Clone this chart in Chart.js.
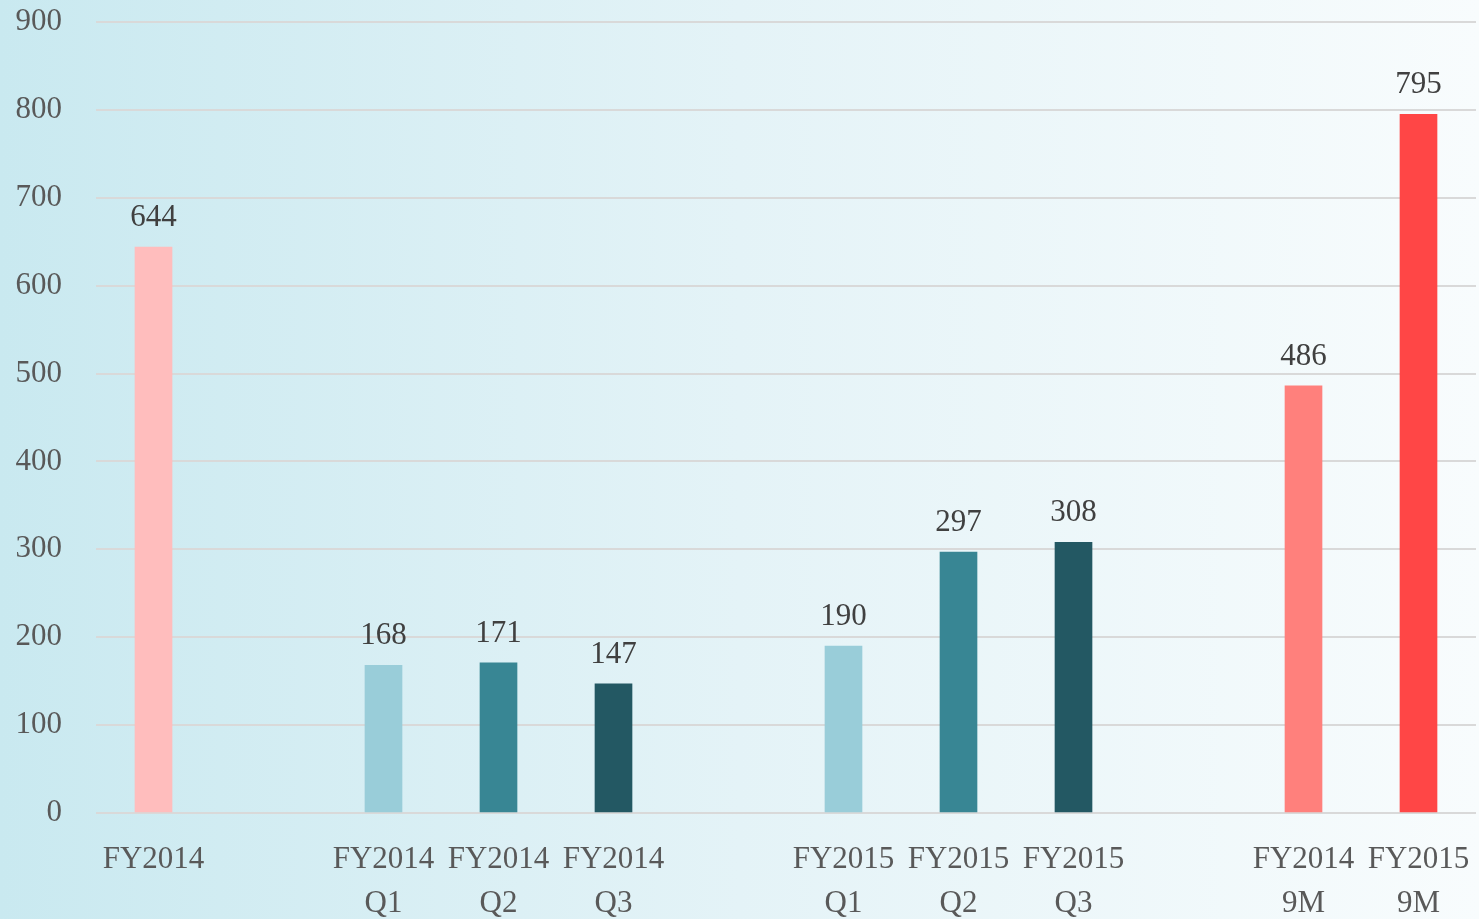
<!DOCTYPE html>
<html>
<head>
<meta charset="utf-8">
<script src="https://cdn.jsdelivr.net/npm/chart.js@4/dist/chart.umd.min.js"></script>
<style>
  html, body { margin: 0; padding: 0; }
  body {
    width: 1479px;
    height: 919px;
    overflow: hidden;
    background: linear-gradient(to right, #c9e9f0 0%, #e4f3f7 50%, #f8fcfd 100%);
  }
  #wrap { position: relative; width: 1479px; height: 919px; }
</style>
</head>
<body>
<div id="wrap"><canvas id="salesChart"></canvas></div>
<script>
const categories = [
  "FY2014", "",
  ["FY2014", "Q1"], ["FY2014", "Q2"], ["FY2014", "Q3"], "",
  ["FY2015", "Q1"], ["FY2015", "Q2"], ["FY2015", "Q3"], "",
  ["FY2014", "9M"], ["FY2015", "9M"]
];
const values = [644, null, 168, 171, 147, null, 190, 297, 308, null, 486, 795];
const barColors = [
  "#ffbdbd", "#ffffff",
  "#99cdd9", "#388694", "#235863", "#ffffff",
  "#99cdd9", "#388694", "#235863", "#ffffff",
  "#ff807c", "#ff4646"
];
const yTicks = [0, 100, 200, 300, 400, 500, 600, 700, 800, 900];

const fontFamily = "'Liberation Serif', 'DejaVu Serif', serif";

// draws the number above each bar
const valueLabels = {
  id: "valueLabels",
  afterDatasetsDraw(chart) {
    const ctx = chart.ctx;
    const meta = chart.getDatasetMeta(0);
    ctx.save();
    ctx.font = "31px " + fontFamily;
    ctx.fillStyle = "#404040";
    ctx.textAlign = "center";
    ctx.textBaseline = "alphabetic";
    meta.data.forEach((bar, i) => {
      const v = values[i];
      if (v === null) return;
      ctx.fillText(String(v), bar.x, bar.y - 21);
    });
    ctx.restore();
  }
};

new Chart(document.getElementById("salesChart"), {
  type: "bar",
  data: {
    labels: categories,
    datasets: [{
      data: values,
      backgroundColor: barColors,
      barThickness: 37
    }]
  },
  options: {
    responsive: true,
    maintainAspectRatio: false,
    animation: false,
    layout: { autoPadding: false, padding: { top: 22, right: 3, left: 0, bottom: 0 } },
    plugins: {
      legend: { display: false },
      tooltip: { enabled: false }
    },
    scales: {
      x: {
        grid: { display: false },
        border: { display: false },
        ticks: {
          color: "#595959",
          font: { family: fontFamily, size: 31, lineHeight: 1.42 },
          padding: 17,
          maxRotation: 0,
          autoSkip: false
        },
        afterFit(scale) {
          scale.height = 106;
          scale.paddingLeft = 0;
          scale.paddingRight = 0;
        }
      },
      y: {
        min: 0,
        max: 900,
        afterBuildTicks(scale) {
          scale.ticks = yTicks.map((v) => ({ value: v }));
        },
        grid: { color: "#d9d9d9", lineWidth: 2, drawTicks: false },
        border: { display: false },
        ticks: {
          color: "#595959",
          font: { family: fontFamily, size: 31 },
          padding: 34
        },
        afterFit(scale) {
          scale.width = 96;
          scale.paddingTop = 0;
          scale.paddingBottom = 0;
        }
      }
    }
  },
  plugins: [valueLabels]
});
</script>
</body>
</html>
